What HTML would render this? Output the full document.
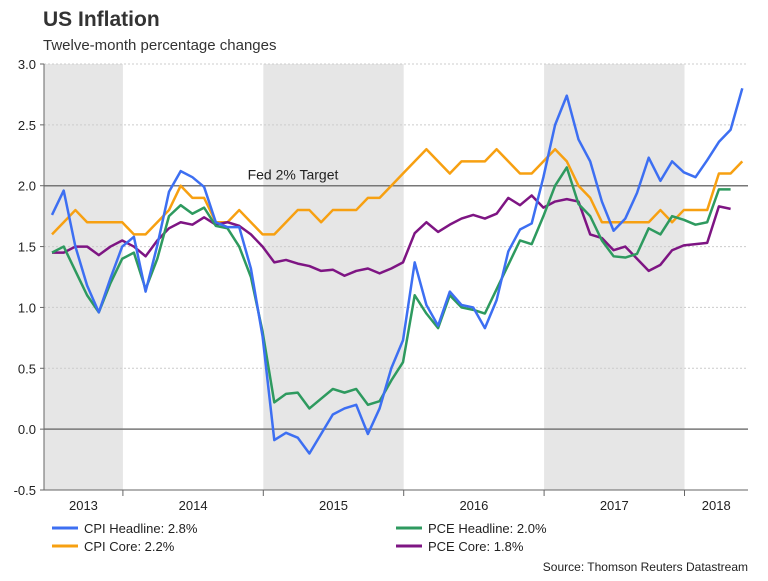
<!DOCTYPE html>
<html><head><meta charset="utf-8"><style>
body{margin:0;background:#fff;font-family:"Liberation Sans",sans-serif;}
svg text{font-family:"Liberation Sans",sans-serif;}
</style></head><body>
<svg id="chart" width="768" height="576" xmlns="http://www.w3.org/2000/svg">
<text x="43" y="26" font-size="21" font-weight="bold" fill="#333">US Inflation</text>
<text x="43" y="50" font-size="15" fill="#333">Twelve-month percentage changes</text>
<g id="bands"></g><g id="grid"></g><g id="series"></g><g id="axes"></g>
<g>
<line x1="52" y1="528" x2="78" y2="528" stroke="#3d6ff2" stroke-width="3"/>
<text x="84" y="533" font-size="13" fill="#222">CPI Headline: 2.8%</text>
<line x1="52" y1="546" x2="78" y2="546" stroke="#f7a011" stroke-width="3"/>
<text x="84" y="551" font-size="13" fill="#222">CPI Core: 2.2%</text>
<line x1="396" y1="528" x2="422" y2="528" stroke="#2e9a5f" stroke-width="3"/>
<text x="428" y="533" font-size="13" fill="#222">PCE Headline: 2.0%</text>
<line x1="396" y1="546" x2="422" y2="546" stroke="#7e1583" stroke-width="3"/>
<text x="428" y="551" font-size="13" fill="#222">PCE Core: 1.8%</text>
</g>
<text x="748" y="571" font-size="12" text-anchor="end" fill="#222">Source: Thomson Reuters Datastream</text>
</svg>
<script>
const cpiHeadline=[1.76,1.96,1.5,1.18,0.96,1.24,1.5, 1.58,1.13,1.51,1.95,2.12,2.07,1.99,1.7,1.66,1.66,1.32,0.76, -0.09,-0.03,-0.07,-0.2,-0.04,0.12,0.17,0.2,-0.04,0.17,0.5,0.73, 1.37,1.02,0.85,1.13,1.02,1.0,0.83,1.06,1.46,1.64,1.69,2.07, 2.5,2.74,2.38,2.2,1.87,1.63,1.73,1.94,2.23,2.04,2.2,2.11, 2.07,2.21,2.36,2.46,2.8];
const cpiCore=[1.6,1.7,1.8,1.7,1.7,1.7,1.7, 1.6,1.6,1.7,1.8,2.0,1.9,1.9,1.7,1.7,1.8,1.7,1.6, 1.6,1.7,1.8,1.8,1.7,1.8,1.8,1.8,1.9,1.9,2.0,2.1, 2.2,2.3,2.2,2.1,2.2,2.2,2.2,2.3,2.2,2.1,2.1,2.2, 2.3,2.2,2.0,1.9,1.7,1.7,1.7,1.7,1.7,1.8,1.7,1.8, 1.8,1.8,2.1,2.1,2.2];
const pceHeadline=[1.45,1.5,1.3,1.1,0.96,1.2,1.4, 1.45,1.15,1.4,1.75,1.84,1.77,1.82,1.67,1.65,1.5,1.25,0.8, 0.22,0.29,0.3,0.17,0.25,0.33,0.3,0.33,0.2,0.23,0.4,0.55, 1.1,0.95,0.83,1.1,1.0,0.98,0.95,1.15,1.35,1.55,1.52,1.75, 2.0,2.15,1.85,1.75,1.55,1.42,1.41,1.44,1.65,1.6,1.75,1.72, 1.68,1.7,1.97,1.97];
const pceCore=[1.45,1.45,1.5,1.5,1.43,1.5,1.55, 1.5,1.42,1.55,1.65,1.7,1.68,1.74,1.68,1.7,1.67,1.6,1.5, 1.37,1.39,1.36,1.34,1.3,1.31,1.26,1.3,1.32,1.28,1.32,1.37, 1.61,1.7,1.62,1.68,1.73,1.76,1.73,1.77,1.9,1.84,1.92,1.82, 1.87,1.89,1.87,1.6,1.57,1.47,1.5,1.4,1.3,1.35,1.47,1.51, 1.52,1.53,1.83,1.81];
const yTicks=[-0.5,0,0.5,1.0,1.5,2.0,2.5,3.0];
const years=["2013","2014","2015","2016","2017","2018"];
const yearStartIdx=[-5,7,19,31,43,55];
const NS="http://www.w3.org/2000/svg";
const L=44,R=748,T=64,B=490;
const yMin=-0.5,yMax=3.0,MW=11.7,OFF=11;
function xs(i){return 52+i*MW;}
function ys(v){return B-(v-yMin)/(yMax-yMin)*(B-T);}
function mk(p,t,a){const e=document.createElementNS(NS,t);for(const k in a)e.setAttribute(k,a[k]);p.appendChild(e);return e;}
const bands=document.getElementById('bands');
[0,2,4].forEach(k=>{
 const x0=Math.max(L,xs(yearStartIdx[k])-OFF), x1=xs(yearStartIdx[k]+12)-OFF;
 const r=mk(bands,'rect',{x:x0,y:T,width:x1-x0,height:B-T,fill:'#e6e6e6'});
 
 
});
const grid=document.getElementById('grid');
const axes=document.getElementById('axes');
yTicks.forEach(v=>{
 const y=ys(v);
 const main=(v===0||v===2);
 const g=mk(grid,'line',{x1:L,x2:R,y1:y,y2:y,stroke:main?'#777':'#ccc','stroke-width':main?1.5:1,'stroke-dasharray':main?'':'2,2'});
 
 
 mk(axes,'line',{x1:L-4,x2:L,y1:y,y2:y,stroke:'#666'});
 const t=mk(axes,'text',{x:L-8,y:y+5,'font-size':13,'text-anchor':'end',fill:'#222'});
 t.textContent=v.toFixed(1);
 
 
});
mk(axes,'line',{x1:L,x2:L,y1:T,y2:B,stroke:'#666'});
mk(axes,'line',{x1:L,x2:R,y1:B,y2:B,stroke:'#666'});
const ft=mk(axes,'text',{x:293,y:ys(2)-6,'font-size':14,'text-anchor':'middle',fill:'#222'});
ft.textContent='Fed 2% Target';


years.forEach((yr,k)=>{
 const x0=Math.max(L,xs(yearStartIdx[k])-OFF);
 const x1=Math.min(R,xs(yearStartIdx[k]+12)-OFF);
 if(k>0) mk(axes,'line',{x1:x0,x2:x0,y1:B,y2:B+6,stroke:'#666'});
 const t=mk(axes,'text',{x:(x0+x1)/2,y:B+20,'font-size':13,'text-anchor':'middle',fill:'#222'});
 t.textContent=yr;
 
 
});
const series=document.getElementById('series');
[[cpiCore,'#f7a011','cpi-core-line'],[pceCore,'#7e1583','pce-core-line'],[pceHeadline,'#2e9a5f','pce-headline-line'],[cpiHeadline,'#3d6ff2','cpi-headline-line']].forEach(([d,c,n])=>{
 const p=mk(series,'polyline',{points:d.map((v,i)=>xs(i)+','+ys(v)).join(' '),fill:'none',stroke:c,'stroke-width':2.5,'stroke-linejoin':'round'});
 
 
});
</script>
</body></html>
